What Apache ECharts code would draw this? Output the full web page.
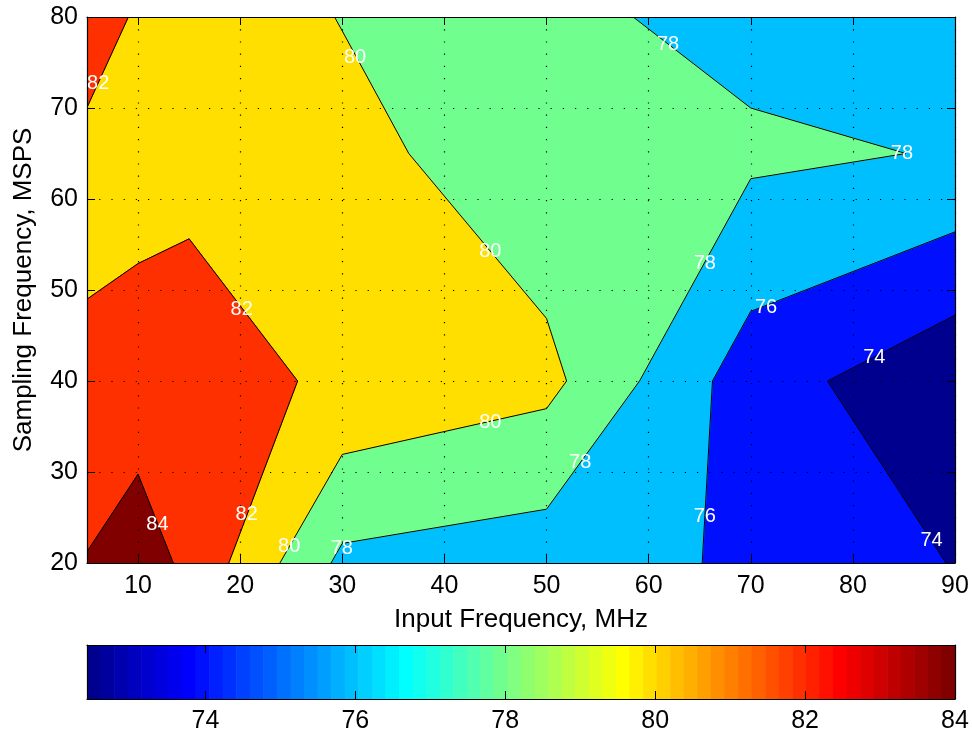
<!DOCTYPE html>
<html>
<head>
<meta charset="utf-8">
<script src="https://cdn.jsdelivr.net/npm/echarts@6/dist/echarts.min.js"></script>
<style>
html,body{margin:0;padding:0;background:#ffffff;}
#chart{width:972px;height:737px;}
</style>
</head>
<body>
<div id="chart"></div>
<script>
const xGrid = [5, 10, 15, 30, 50, 70, 90];          // Input Frequency, MHz
const yGrid = [20, 40, 65, 80];                      // Sampling Frequency, MSPS
const zRow20 = [84.10, 85.00, 83.55, 77.56, 76.93, 75.71, 73.92];
const zRow40 = [82.50, 82.95, 82.85, 81.65, 80.55, 74.95, 72.42];
const zRow65 = [81.11, 81.11, 81.49, 80.70, 78.55, 78.38, 77.88];
const zRow80 = [83.75, 81.59, 81.50, 79.92, 78.56, 77.24, 77.40];
const levels = [74, 76, 78, 80, 82, 84];
const xTicks = [10, 20, 30, 40, 50, 60, 70, 80, 90];
const yTicks = [20, 30, 40, 50, 60, 70, 80];
const cbTicks = [74, 76, 78, 80, 82, 84];
// contour label positions (data units) and texts
const labelX = [6.1, 31.25, 44.5, 61.9, 84.8, 65.5, 20.15, 20.64, 11.9, 24.8, 44.5, 29.95, 53.3, 71.5, 65.5, 82.1, 87.7];
const labelY = [72.66, 75.5, 54.2, 76.95, 65.04, 52.9, 47.9, 25.3, 24.2, 21.76, 35.4, 21.6, 31.0, 48.1, 25.1, 42.6, 22.5];
const labelText = ['82', '80', '80', '78', '78', '78', '82', '82', '84', '80', '80', '78', '78', '76', '76', '74', '74'];

const Z = [zRow20, zRow40, zRow65, zRow80];
const cMin = Math.min.apply(null, Z.flat());
const cMax = levels[levels.length - 1];
const FONT = 'Liberation Sans, Arial, Helvetica, sans-serif';

// MATLAB jet(64) colormap
function jetRow(i) {
  const u = k => (k < 1 || k > 47) ? 0 : (k <= 16 ? k / 16 : (k <= 31 ? 1 : (48 - k) / 16));
  return [u(i - 24), u(i - 8), u(i + 8)];
}
function hex(c) {
  return '#' + c.map(v => Math.round(v * 255).toString(16).padStart(2, '0')).join('');
}
function jetHex(i) { return hex(jetRow(i)); }
function colorFor(v) {
  let idx = Math.floor((v - cMin) / (cMax - cMin) * 64) + 1;
  idx = Math.max(1, Math.min(64, idx));
  return jetHex(idx);
}

// polygon of {z >= L} inside cell (i,j), with crossing flags
function cellPoly(i, j, L) {
  const cx = [xGrid[i], xGrid[i + 1], xGrid[i + 1], xGrid[i]];
  const cy = [yGrid[j], yGrid[j], yGrid[j + 1], yGrid[j + 1]];
  const cz = [Z[j][i], Z[j][i + 1], Z[j + 1][i + 1], Z[j + 1][i]];
  const pts = [], cross = [];
  for (let k = 0; k < 4; k++) {
    const k2 = (k + 1) % 4;
    const a = cz[k] >= L, b = cz[k2] >= L;
    if (a) { pts.push([cx[k], cy[k]]); cross.push(false); }
    if (a !== b) {
      const t = (L - cz[k]) / (cz[k2] - cz[k]);
      pts.push([cx[k] + t * (cx[k2] - cx[k]), cy[k] + t * (cy[k2] - cy[k])]);
      cross.push(true);
    }
  }
  return { pts, cross };
}

const fillData = [];
for (let li = -1; li < levels.length; li++)
  for (let j = 0; j < yGrid.length - 1; j++)
    for (let i = 0; i < xGrid.length - 1; i++) fillData.push([li, i, j]);
const lineData = fillData.filter(d => d[0] >= 0);
const labelData = labelX.map((x, k) => [x, labelY[k], labelText[k]]);
const cbData = [];
for (let k = 0; k < 64; k++) cbData.push([k]);

function renderFill(params, api) {
  const li = api.value(0), i = api.value(1), j = api.value(2);
  let pts, color;
  if (li < 0) {
    pts = [[xGrid[i], yGrid[j]], [xGrid[i + 1], yGrid[j]], [xGrid[i + 1], yGrid[j + 1]], [xGrid[i], yGrid[j + 1]]];
    color = colorFor(cMin);
  } else {
    pts = cellPoly(i, j, levels[li]).pts;
    color = colorFor(levels[li]);
  }
  if (pts.length < 3) return null;
  return {
    type: 'polygon',
    shape: { points: pts.map(p => api.coord(p)) },
    style: { fill: color, stroke: color, lineWidth: 1 }
  };
}

function renderLines(params, api) {
  const li = api.value(0), i = api.value(1), j = api.value(2);
  const r = cellPoly(i, j, levels[li]);
  const n = r.pts.length;
  const children = [];
  for (let k = 0; k < n; k++) {
    const k2 = (k + 1) % n;
    if (n > 1 && r.cross[k] && r.cross[k2]) {
      const a = api.coord(r.pts[k]), b = api.coord(r.pts[k2]);
      children.push({ type: 'line', shape: { x1: a[0], y1: a[1], x2: b[0], y2: b[1] },
        style: { stroke: '#000', lineWidth: 1 } });
    }
  }
  return { type: 'group', children };
}

function renderLabel(params, api) {
  const p = api.coord([api.value(0), api.value(1)]);
  return {
    type: 'text', x: p[0], y: p[1],
    style: { text: labelText[params.dataIndex], fill: '#ffffff', font: '20px ' + FONT,
      textAlign: 'center', textVerticalAlign: 'middle' }
  };
}

function renderCb(params, api) {
  const k = api.value(0);
  const w = (cMax - cMin) / 64;
  const a = api.coord([cMin + k * w, 1]);
  const b = api.coord([cMin + (k + 1) * w, 0]);
  return { type: 'rect', shape: { x: a[0], y: a[1], width: b[0] - a[0] + 0.6, height: b[1] - a[1] },
    style: { fill: jetHex(k + 1) } };
}

const axisLine = { show: true, onZero: false, lineStyle: { color: '#000', width: 1.2 } };
const tickIn = { show: true, inside: true, length: 8, lineStyle: { color: '#000', width: 1 } };
const lbl = { color: '#000', fontSize: 25, fontFamily: FONT };
const dotted = { show: true, lineStyle: { color: '#000', width: 1.2, type: [1.2, 11] } };

const option = {
  backgroundColor: '#ffffff',
  animation: false,
  grid: [
    { left: 87, right: 17, top: 17, bottom: 174, containLabel: false },
    { left: 87, right: 17, top: 645, height: 54, containLabel: false }
  ],
  xAxis: [
    { gridIndex: 0, type: 'value', min: 5, max: 90, position: 'bottom', z: 10,
      axisLine, axisTick: Object.assign({ customValues: xTicks }, tickIn),
      axisLabel: Object.assign({ customValues: xTicks, margin: 11 }, lbl),
      splitLine: dotted,
      name: 'Input Frequency, MHz', nameLocation: 'middle', nameGap: 44,
      nameTextStyle: { color: '#000', fontSize: 26, fontFamily: FONT } },
    { gridIndex: 0, type: 'value', min: 5, max: 90, position: 'top', z: 10,
      axisLine, axisTick: Object.assign({ customValues: xTicks }, tickIn),
      axisLabel: { show: false }, splitLine: { show: false } },
    { gridIndex: 1, type: 'value', min: cMin, max: cMax, position: 'bottom', z: 10,
      axisLine, axisTick: Object.assign({ customValues: cbTicks }, tickIn),
      axisLabel: Object.assign({ customValues: cbTicks, margin: 10 }, lbl),
      splitLine: { show: false } },
    { gridIndex: 1, type: 'value', min: cMin, max: cMax, position: 'top', z: 10,
      axisLine, axisTick: Object.assign({ customValues: cbTicks }, tickIn),
      axisLabel: { show: false }, splitLine: { show: false } }
  ],
  yAxis: [
    { gridIndex: 0, type: 'value', min: 20, max: 80, interval: 10, position: 'left', z: 10,
      axisLine, axisTick: tickIn,
      axisLabel: Object.assign({ margin: 9 }, lbl),
      splitLine: dotted,
      name: 'Sampling Frequency, MSPS', nameLocation: 'middle', nameGap: 50, nameRotate: 90,
      nameTextStyle: { color: '#000', fontSize: 26, fontFamily: FONT } },
    { gridIndex: 0, type: 'value', min: 20, max: 80, interval: 10, position: 'right', z: 10,
      axisLine, axisTick: tickIn, axisLabel: { show: false }, splitLine: { show: false } },
    { gridIndex: 1, type: 'value', min: 0, max: 1, position: 'left', z: 10,
      axisLine, axisTick: { show: false }, axisLabel: { show: false }, splitLine: { show: false } },
    { gridIndex: 1, type: 'value', min: 0, max: 1, position: 'right', z: 10,
      axisLine, axisTick: { show: false }, axisLabel: { show: false }, splitLine: { show: false } }
  ],
  series: [
    { type: 'custom', xAxisIndex: 0, yAxisIndex: 0, z: 2, clip: true, silent: true,
      renderItem: renderFill, data: fillData, encode: { x: -1, y: -1 } },
    { type: 'custom', xAxisIndex: 0, yAxisIndex: 0, z: 3, clip: true, silent: true,
      renderItem: renderLines, data: lineData, encode: { x: -1, y: -1 } },
    { type: 'custom', xAxisIndex: 0, yAxisIndex: 0, z: 20, clip: true, silent: true,
      renderItem: renderLabel, data: labelData, encode: { x: 0, y: 1 } },
    { type: 'custom', xAxisIndex: 2, yAxisIndex: 2, z: 2, clip: true, silent: true,
      renderItem: renderCb, data: cbData, encode: { x: -1, y: -1 } }
  ]
};
const chart = echarts.init(document.getElementById('chart'));
chart.setOption(option);
</script>
</body>
</html>
